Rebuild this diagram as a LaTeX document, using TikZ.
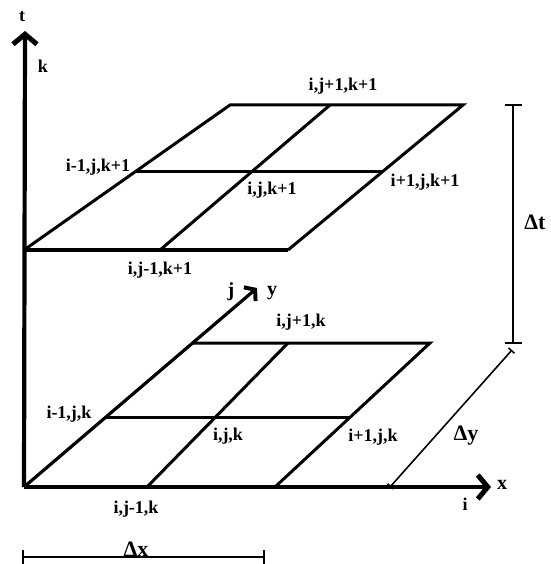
\documentclass[tikz,border=0pt]{standalone}
\usepackage{fontspec}
\setmainfont{Liberation Serif}
\usetikzlibrary{arrows.meta,calc}
\begin{document}
\begin{tikzpicture}[x=1pt,y=-1pt,
  axis/.style={line width=4.2pt},
  gridline/.style={line width=3pt},
  dimline/.style={line width=1.6pt},
  lbl/.style={font=\fontsize{18}{18}\selectfont\bfseries, inner sep=0pt},
  dlbl/.style={font=\fontsize{22}{22}\selectfont\bfseries, inner sep=0pt},
  barb/.style={-{Straight Barb[length=10pt,width=24pt,line width=5pt]}}]
\useasboundingbox (0,0) rectangle (550,564);
% axes coordinates
\coordinate (O) at (24,487);
\coordinate (T) at (25,31);
\coordinate (X) at (491,487);
\coordinate (J) at (257,288);
% lower plane
\coordinate (LA) at (24,487);
\coordinate (LB) at (275,487);
\coordinate (LC) at (430,343);
\coordinate (LD) at (193,343);
\coordinate (LS1) at (147,487);
\coordinate (LS2) at (288,343);
\coordinate (LM1) at ($(LA)!0.486!(LD)$);
\coordinate (LM2) at ($(LB)!0.486!(LC)$);
% upper plane
\coordinate (UA) at (24,250);
\coordinate (UB) at (288,250);
\coordinate (UC) at (463,105);
\coordinate (UD) at (230,105);
\coordinate (US1) at (160,250);
\coordinate (US2) at (330,105);
\coordinate (UM1) at ($(UA)!0.538!(UD)$);
\coordinate (UM2) at ($(UB)!0.538!(UC)$);
% dimension coordinates
\coordinate (DT1) at (513,105);
\coordinate (DT2) at (513,343);
\coordinate (DY1) at (390,487);
\coordinate (DY2) at (512,350);
\coordinate (DX1) at (22,557);
\coordinate (DX2) at (265,557);

% upper plane
\draw[gridline] (UA) -- (UD) -- (UC) -- (UB);
\draw[gridline] (US1) -- (US2);
\draw[gridline] (UM1) -- (UM2);
\draw[line width=3.4pt] (UA) -- (UB);
% lower plane
\draw[gridline] (LD) -- (LC) -- (LB);
\draw[gridline] (LS1) -- (LS2);
\draw[gridline] (LM1) -- (LM2);
% axes
\draw[axis, barb] (O) -- (T);
\draw[axis, barb] (O) -- (X);
\draw[line width=3.2pt, -{Straight Barb[length=7pt,width=18pt,line width=4pt]}] (O) -- (J);
% dimensions
\draw[dimline] (DT1) -- (DT2);
\draw[dimline] ($(DT1)+(-8,0)$) -- ($(DT1)+(9,0)$);
\draw[dimline] ($(DT2)+(-8,0)$) -- ($(DT2)+(9,0)$);
\draw[dimline, {Bar[width=8pt]}-{Bar[width=8pt]}] (DY1) -- (DY2);
\draw[dimline, {Bar[width=14pt]}-{Bar[width=14pt]}] (DX1) -- (DX2);

% labels
\node[lbl] (lt) at (22,17) {t};
\node[lbl] (lk) at (43,66) {k};
\node[lbl, font=\fontsize{20}{20}\selectfont\bfseries] (lx) at (502,485) {x};
\node[lbl] (li) at (465,504) {i};
\node[lbl, font=\fontsize{20}{20}\selectfont\bfseries] (lj) at (231,292) {j};
\node[lbl, font=\fontsize{20}{20}\selectfont\bfseries] (ly) at (272,293) {y};
\node[lbl] (n1) at (343,86) {i,j+1,k+1};
\node[lbl] (n2) at (98,167) {i-1,j,k+1};
\node[lbl] (n3) at (272,190) {i,j,k+1};
\node[lbl] (n4) at (425,182) {i+1,j,k+1};
\node[lbl] (n5) at (160,270) {i,j-1,k+1};
\node[lbl] (n6) at (301,322) {i,j+1,k};
\node[lbl] (n7) at (69,414) {i-1,j,k};
\node[lbl] (n8) at (228,436) {i,j,k};
\node[lbl] (n9) at (373,437) {i+1,j,k};
\node[lbl] (n10) at (136,509) {i,j-1,k};
\node[dlbl] (ldt) at (535,222) {Δt};
\node[dlbl] (ldy) at (466,436) {Δy};
\node[dlbl, anchor=base] (ldx) at (136,556) {Δx};
\end{tikzpicture}
\end{document}
